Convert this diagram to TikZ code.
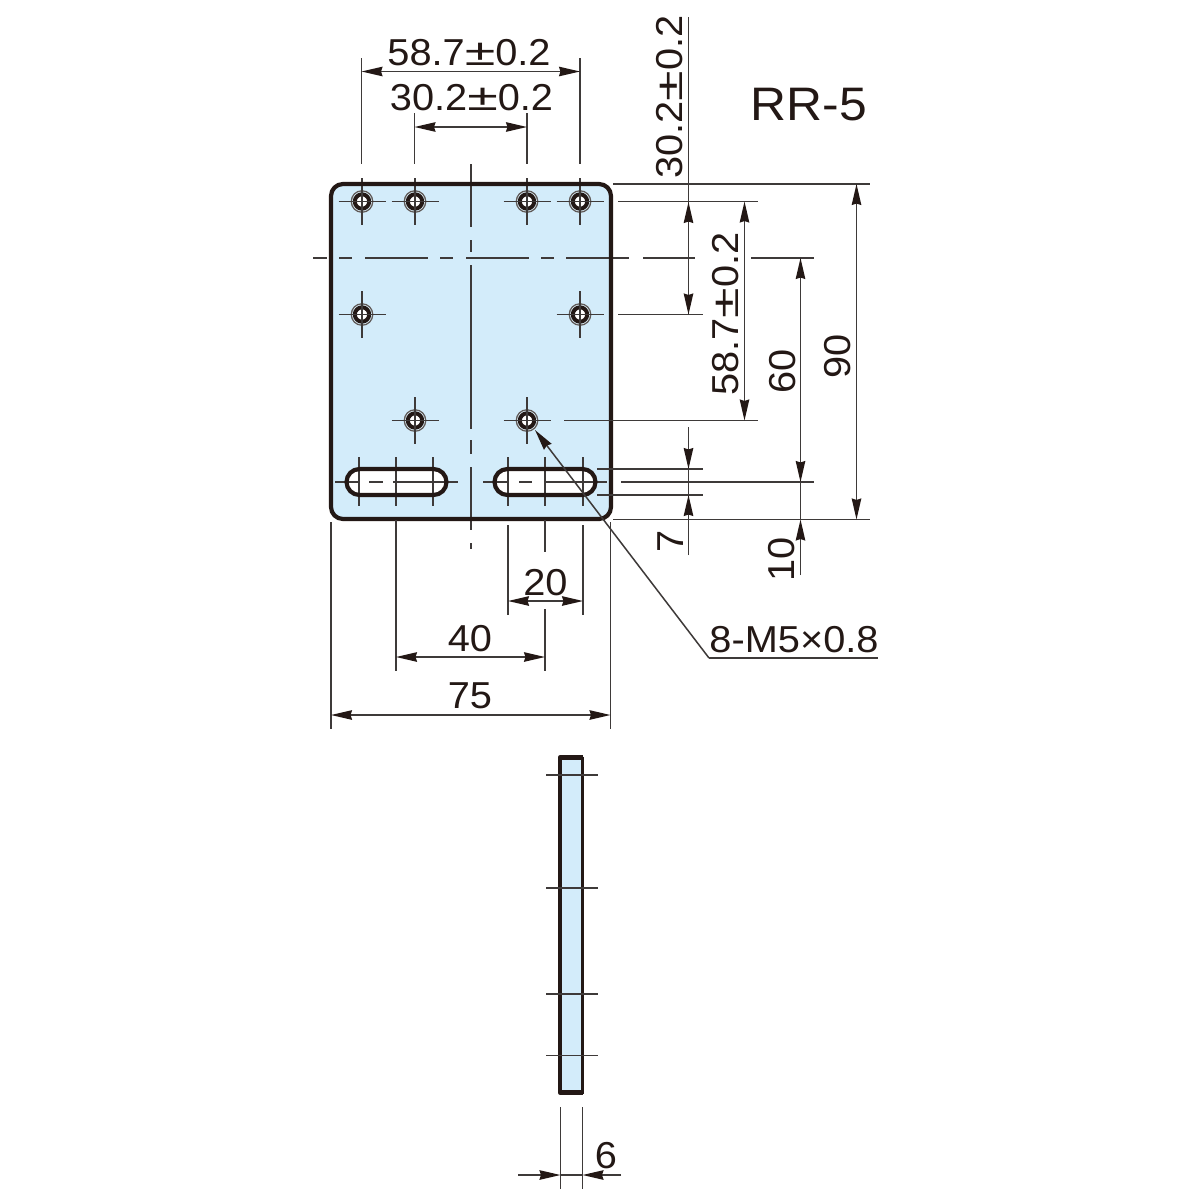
\documentclass[tikz,border=0pt]{standalone}
\usepackage{fontspec}
\setmainfont[FakeStretch=1.06]{Liberation Sans}
\usetikzlibrary{arrows.meta}
\definecolor{ink}{HTML}{231815}
\definecolor{thin}{HTML}{3E3A39}
\definecolor{plate}{HTML}{D3ECFA}
\definecolor{ringg}{HTML}{5F5957}
\newcommand{\pmk}{\scalebox{1.4}[1.0]{±}}
\tikzset{
  thinline/.style={draw=thin,line width=1.5pt},
  outline/.style={draw=ink,line width=4.2pt,line join=round},
  tip/.style={-{Stealth[length=21pt,width=9.5pt,inset=1.5pt,color=ink]}},
  tips/.style={{Stealth[length=21pt,width=9.5pt,inset=1.5pt,color=ink]}-{Stealth[length=21pt,width=9.5pt,inset=1.5pt,color=ink]}},
  dimlabel/.style={text=ink,font=\fontsize{37.5}{37.5}\selectfont,inner sep=0pt,anchor=base},
  titlelabel/.style={text=ink,font=\fontsize{47}{47}\selectfont,inner sep=0pt,anchor=base},
}
\newcommand{\threadhole}[2]{%
  \fill[ringg] (#1,#2) circle (11.4);
  \fill[plate!70!white] (#1,#2) circle (10);
  \draw[ink,line width=4pt,fill=white] (#1,#2) circle (7.2);
  \draw[thinline] (#1-23.5,#2) -- (#1+23.5,#2) (#1,#2-23.5) -- (#1,#2+23.5);
}
\begin{document}
\begin{tikzpicture}[x=1pt,y=-1pt]
\useasboundingbox (0,0) rectangle (1200,1200);
\fill[white] (0,0) rectangle (1200,1200);
% plate
\path[fill=plate,rounded corners=12pt] (331,184) rectangle (611,519);
% slots
\path[fill=white,rounded corners=13pt] (346.5,469) rectangle (446.5,495);
\path[fill=white,rounded corners=13pt] (494.5,469) rectangle (595.5,495);
% plate centre lines
\draw[thinline] (471,164) -- (471,227) (471,240) -- (471,252) (471,265) -- (471,429) (471,440) -- (471,454) (471,467) -- (471,530) (471,543) -- (471,549);
\draw[thinline] (313,258) -- (327,258) (339,258) -- (352,258) (365,258) -- (428,258) (440,258) -- (453,258) (466,258) -- (529,258) (541,258) -- (554,258) (566,258) -- (629,258) (643,258) -- (695,258) (751,258) -- (814,258);
% holes
\threadhole{362}{201.5}\threadhole{415}{201.5}\threadhole{527}{201.5}\threadhole{580}{201.5}
\threadhole{362}{314.5}\threadhole{580}{314.5}\threadhole{415}{420.5}\threadhole{527}{420.5}
% slot axes
\draw[thinline] (359,457) -- (359,506) (396,457) -- (396,506) (433,457) -- (433,506);
\draw[thinline] (508,457) -- (508,506) (545,457) -- (545,506) (583,457) -- (583,506);
\draw[thinline] (335,482) -- (360,482) (369,482) -- (383,482) (393,482) -- (458,482);
\draw[thinline] (483,482) -- (508,482) (519,482) -- (532,482) (544,482) -- (607,482);
% outlines
\draw[outline,rounded corners=13pt] (346.5,469) rectangle (446.5,495);
\draw[outline,rounded corners=13pt] (494.5,469) rectangle (595.5,495);
\draw[outline,rounded corners=12pt] (331,184) rectangle (611,519);
% side view
\path[fill=plate] (560,757.5) rectangle (582.5,1092.5);
\draw[ink,line width=4.4pt,line join=round] (582.7,757.5) -- (560,757.5) -- (560,1092.5) -- (582.7,1092.5);
\draw[ink,line width=3pt,line join=round] (582.7,756.5) -- (582.7,1093.5);
\draw[thinline] (546,775) -- (598,775) (546,888) -- (598,888) (546,994) -- (598,994) (546,1055.5) -- (598,1055.5);
% extension lines right
\draw[thinline] (613,184) -- (870,184) (613,519.5) -- (870,519.5);
\draw[thinline] (618,201.5) -- (758,201.5) (618,314.5) -- (703,314.5) (564,420.5) -- (758,420.5);
\draw[thinline] (597,469) -- (703,469) (597,495) -- (703,495) (621,482) -- (814,482);
% extension lines top
\draw[thinline] (361.5,58) -- (361.5,164) (580,58) -- (580,164) (414.5,113) -- (414.5,164) (527,113) -- (527,164);
% extension lines bottom
\draw[thinline] (331,522) -- (331,729) (610.5,522) -- (610.5,729) (396,520) -- (396,671) (508,525) -- (508,615) (583,525) -- (583,615) (545,520) -- (545,552) (545,609) -- (545,671);
\draw[thinline] (560.5,1107) -- (560.5,1189) (582.5,1107) -- (582.5,1189);
% dimension lines
\draw[thinline,tips] (361.5,71.5) -- (580,71.5);
\draw[thinline,tips] (414.5,127) -- (527,127);
\draw[thinline,tips] (508,601) -- (583,601);
\draw[thinline,tips] (396,657) -- (545,657);
\draw[thinline,tips] (331,715) -- (610.5,715);
\draw[thinline,tips] (744.5,201.5) -- (744.5,420.5);
\draw[thinline,tips] (856.5,184) -- (856.5,519.5);
\draw[thinline] (688.5,17) -- (688.5,314);
\draw[thinline,tip] (688.5,240) -- (688.5,202);
\draw[thinline,tip] (688.5,280) -- (688.5,314.5);
\draw[thinline,tip] (688.5,427) -- (688.5,469);
\draw[thinline,tip] (688.5,555) -- (688.5,495);
\draw[thinline] (688.5,469) -- (688.5,495);
\draw[thinline,tip] (800.5,300) -- (800.5,258);
\draw[thinline,tip] (800.5,300) -- (800.5,482);
\draw[thinline,tip] (800.5,575) -- (800.5,519.5);
\draw[thinline] (800.5,482) -- (800.5,519.5);
\draw[thinline,tip] (518,1175) -- (560.5,1175);
\draw[thinline,tip] (621,1175) -- (582.5,1175);
\draw[thinline] (560.5,1175) -- (582.5,1175);
% leader
\coordinate (leadbend) at (709,658);
\draw[thinline,tip] (leadbend) -- (535,430);
\draw[thinline] (leadbend) -- (878,658);
% labels
\node[titlelabel] (rr) at (809,120) {RR-5};
\node[dimlabel] (a) at (469,65) {58.7\pmk 0.2};
\node[dimlabel] (b) at (471.5,110) {30.2\pmk 0.2};
\node[dimlabel,rotate=90] (c) at (682,97) {30.2\pmk 0.2};
\node[dimlabel,rotate=90] (d) at (738,314) {58.7\pmk 0.2};
\node[dimlabel,rotate=90] (e) at (795,371) {60};
\node[dimlabel,rotate=90] (f) at (850,356) {90};
\node[dimlabel,rotate=90] (g) at (683,541) {7};
\node[dimlabel,rotate=90] (h) at (794,559) {10};
\node[dimlabel] (i) at (545.5,595) {20};
\node[dimlabel] (j) at (470,651) {40};
\node[dimlabel] (k) at (470,708) {75};
\node[dimlabel] (l) at (606,1168) {6};
\node[dimlabel] (m) at (794,652) {8-M5×0.8};
\end{tikzpicture}
\end{document}
